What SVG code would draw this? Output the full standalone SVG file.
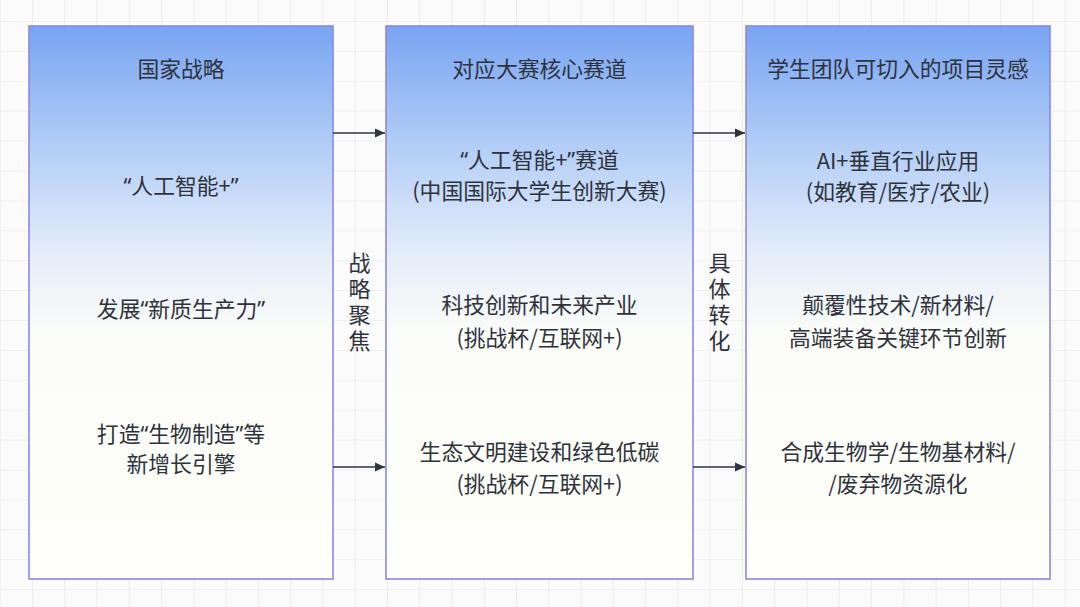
<svg xmlns="http://www.w3.org/2000/svg" width="1080" height="607" viewBox="0 0 1080 607">
  <defs>
    <pattern id="grid" x="32" y="21" width="32.27" height="29.9" patternUnits="userSpaceOnUse">
      <path d="M0 0 V29.9 M0 0 H32.27" fill="none" stroke="#e4e4e6" stroke-width="1.2"/>
    </pattern>
    <linearGradient id="boxfill" x1="0" y1="0" x2="0" y2="1">
      <stop offset="0" stop-color="#78a4f2"/>
      <stop offset="0.22" stop-color="#b3cef6"/>
      <stop offset="0.42" stop-color="#e6eefa"/>
      <stop offset="0.56" stop-color="#fcfdf8"/>
      <stop offset="1" stop-color="#fefff9"/>
    </linearGradient>
    <marker id="arrow" viewBox="0 0 10 10" refX="10" refY="5" markerWidth="10" markerHeight="10" markerUnits="userSpaceOnUse" orient="auto">
      <path d="M0 0.5 L10 5 L0 9.5 Z" fill="#2f3440"/>
    </marker>
  </defs>
  <style>
    .box { fill: url(#boxfill); stroke: #8c88e4; stroke-width: 1.6; }
    text { font-family: "Noto Sans CJK SC", "Noto Sans", sans-serif; font-size: 21.8px; fill: #2e323c; text-anchor: middle; }
    .q { font-family: "Noto Sans", "Liberation Sans", sans-serif; }
    .vt { font-size: 22px; writing-mode: vertical-rl; letter-spacing: 4px; }
    .conn { stroke: #2f3440; stroke-width: 1.4; fill: none; marker-end: url(#arrow); }
  </style>
  <rect width="1080" height="607" fill="#fbfbfb"/>
  <rect width="1080" height="607" fill="url(#grid)"/>

  <g id="node-strategy">
    <rect class="box" x="29" y="26" width="304" height="553"/>
    <text x="181" y="77">国家战略</text>
    <text x="181" y="194"><tspan class="q">“</tspan>人工智能+<tspan class="q">”</tspan></text>
    <text x="181" y="317">发展<tspan class="q">“</tspan>新质生产力<tspan class="q">”</tspan></text>
    <text x="181" y="442">打造<tspan class="q">“</tspan>生物制造<tspan class="q">”</tspan>等</text>
    <text x="181" y="472">新增长引擎</text>
  </g>

  <g id="node-tracks">
    <rect class="box" x="386" y="26" width="307" height="553"/>
    <text x="539.5" y="77">对应大赛核心赛道</text>
    <text x="539.5" y="168"><tspan class="q">“</tspan>人工智能+<tspan class="q">”</tspan>赛道</text>
    <text x="539.5" y="199">(中国国际大学生创新大赛)</text>
    <text x="539.5" y="313">科技创新和未来产业</text>
    <text x="539.5" y="346">(挑战杯/互联网+)</text>
    <text x="539.5" y="460">生态文明建设和绿色低碳</text>
    <text x="539.5" y="492">(挑战杯/互联网+)</text>
  </g>

  <g id="node-ideas">
    <rect class="box" x="746" y="26" width="304" height="553"/>
    <text x="898" y="77">学生团队可切入的项目灵感</text>
    <text x="898" y="169">AI+垂直行业应用</text>
    <text x="898" y="200">(如教育/医疗/农业)</text>
    <text x="898" y="313">颠覆性技术/新材料/</text>
    <text x="898" y="346">高端装备关键环节创新</text>
    <text x="898" y="460">合成生物学/生物基材料/</text>
    <text x="898" y="492">/废弃物资源化</text>
  </g>

  <g id="connectors">
    <line class="conn" x1="333" y1="133" x2="385" y2="133"/>
    <line class="conn" x1="333" y1="467" x2="385" y2="467"/>
    <line class="conn" x1="693" y1="133" x2="745" y2="133"/>
    <line class="conn" x1="693" y1="467" x2="745" y2="467"/>
    <text id="label-focus" class="vt" x="359.5" y="304">战略聚焦</text>
    <text id="label-transform" class="vt" x="719.5" y="304">具体转化</text>
  </g>
</svg>
